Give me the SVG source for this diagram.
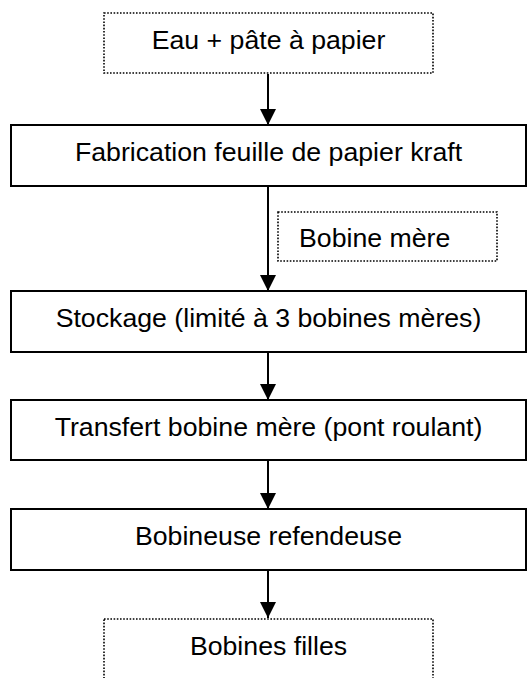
<svg xmlns="http://www.w3.org/2000/svg" width="530" height="678" viewBox="0 0 530 678">
<style>
.box{fill:#fff;stroke:#000;stroke-width:2}
.dot{fill:#fff;stroke:#000;stroke-width:1.6;stroke-dasharray:1.6 1.6}
.t{font-family:"Liberation Sans",Arial,sans-serif;font-size:26.7px;fill:#000;text-anchor:middle}
.c{stroke:#000;stroke-width:2;fill:none}
</style>
<defs>
<marker id="ah" markerUnits="userSpaceOnUse" markerWidth="16" markerHeight="18" refX="16" refY="8" orient="auto">
<path d="M0,0 L16,8 L0,16 Z" fill="#000"/>
</marker>
</defs>
<rect width="530" height="678" fill="#fff"/>
<g id="connectors">
<line class="c" x1="268" y1="74" x2="268" y2="125" marker-end="url(#ah)"/>
<line class="c" x1="268" y1="186" x2="268" y2="291" marker-end="url(#ah)"/>
<line class="c" x1="268" y1="352" x2="268" y2="400" marker-end="url(#ah)"/>
<line class="c" x1="268" y1="460" x2="268" y2="509" marker-end="url(#ah)"/>
<line class="c" x1="268" y1="570" x2="268" y2="618" marker-end="url(#ah)"/>
</g>
<g id="n1">
<rect class="dot" x="104" y="13" width="329" height="60"/>
<text class="t" x="268.5" y="49">Eau + pâte à papier</text>
</g>
<g id="n2">
<rect class="box" x="11" y="125" width="515" height="61"/>
<text class="t" x="268.5" y="161">Fabrication feuille de papier kraft</text>
</g>
<g id="n3">
<rect class="dot" x="278" y="212" width="219" height="49"/>
<text class="t" x="299" y="247" style="text-anchor:start">Bobine mère</text>
</g>
<g id="n4">
<rect class="box" x="11" y="291" width="515" height="61"/>
<text class="t" x="268.5" y="327">Stockage (limité à 3 bobines mères)</text>
</g>
<g id="n5">
<rect class="box" x="11" y="400" width="515" height="60"/>
<text class="t" x="268.5" y="436">Transfert bobine mère (pont roulant)</text>
</g>
<g id="n6">
<rect class="box" x="11" y="509" width="515" height="61"/>
<text class="t" x="268.5" y="545">Bobineuse refendeuse</text>
</g>
<g id="n7">
<rect class="dot" x="104" y="619" width="329" height="80"/>
<text class="t" x="268.5" y="655">Bobines filles</text>
</g>
</svg>
